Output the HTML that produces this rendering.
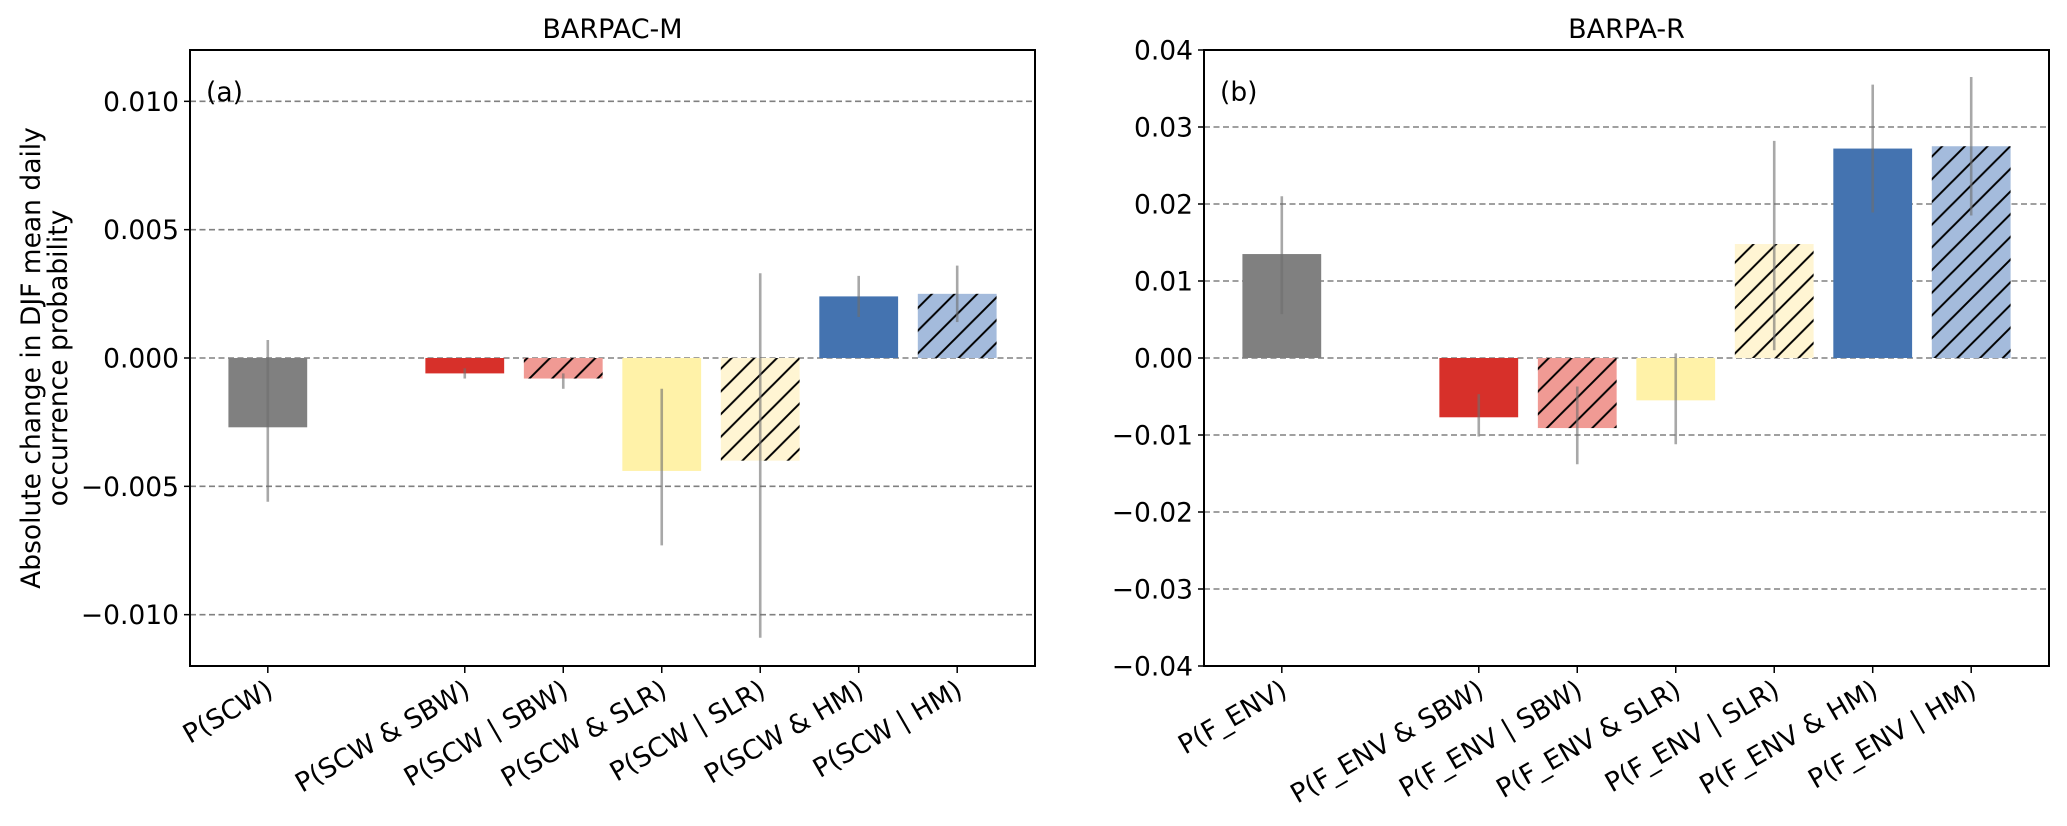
<!DOCTYPE html>
<html><head><meta charset="utf-8">
<style>
html,body{margin:0;padding:0;background:#fff;}
svg text{font-family:"DejaVu Sans","Liberation Sans",sans-serif;fill:#000;}
</style></head>
<body>
<svg id="fig" width="2067" height="821" viewBox="0 0 2067 821" xmlns="http://www.w3.org/2000/svg">
<defs>
<pattern id="hatch" patternUnits="userSpaceOnUse" width="22.7" height="22.7">
<path d="M-2,24.7 L24.7,-2 M-2,2 L2,-2 M20.7,24.7 L24.7,20.7" stroke="#000" stroke-width="2"/>
</pattern>
</defs>
<g id="chart"></g>
</svg>
<script>
const catsA = ["P(SCW)", "P(SCW & SBW)", "P(SCW | SBW)", "P(SCW & SLR)", "P(SCW | SLR)", "P(SCW & HM)", "P(SCW | HM)"];
const posA = [0, 2, 3, 4, 5, 6, 7];
const valsA = [-0.0027, -0.0006, -0.0008, -0.0044, -0.0040, 0.0024, 0.0025];
const errLoA = [-0.0056, -0.0008, -0.0012, -0.0073, -0.0109, 0.0016, 0.0014];
const errHiA = [0.0007, -0.0004, -0.0006, -0.0012, 0.0033, 0.0032, 0.0036];
const ticksA = [-0.010, -0.005, 0.000, 0.005, 0.010];
const tickLabelsA = ["\u22120.010", "\u22120.005", "0.000", "0.005", "0.010"];

const catsB = ["P(F_ENV)", "P(F_ENV & SBW)", "P(F_ENV | SBW)", "P(F_ENV & SLR)", "P(F_ENV | SLR)", "P(F_ENV & HM)", "P(F_ENV | HM)"];
const posB = [0, 2, 3, 4, 5, 6, 7];
const valsB = [0.0135, -0.0077, -0.0091, -0.0055, 0.0148, 0.0272, 0.0275];
const errLoB = [0.0057, -0.0102, -0.0138, -0.0112, 0.0010, 0.0189, 0.0185];
const errHiB = [0.0210, -0.0047, -0.0037, 0.0006, 0.0282, 0.0355, 0.0365];
const ticksB = [-0.04, -0.03, -0.02, -0.01, 0.00, 0.01, 0.02, 0.03, 0.04];
const tickLabelsB = ["\u22120.04", "\u22120.03", "\u22120.02", "\u22120.01", "0.00", "0.01", "0.02", "0.03", "0.04"];

const colors = ["#808080", "#d7302a", "#f09a94", "#fff2a8", "#fff5d3", "#4473b0", "#a4bbdc"];
const hatched = [false, false, true, false, true, false, true];

const NS = "http://www.w3.org/2000/svg";
const root = document.getElementById("chart");
const FS = 26.5;
function el(tag, attrs, parent) {
  const e = document.createElementNS(NS, tag);
  for (const k in attrs) e.setAttribute(k, attrs[k]);
  (parent || root).appendChild(e);
  return e;
}

function panel(opt) {
  const g = el("g", {});
  
  
  const x0 = opt.left, x1 = opt.right, yTop = 50, yBot = 666;
  const xmin = -0.79, xmax = 7.79;
  const xs = v => x0 + (v - xmin) / (xmax - xmin) * (x1 - x0);
  const ys = v => yTop + (opt.ymax - v) / (opt.ymax - opt.ymin) * (yBot - yTop);

  opt.ticks.forEach((t, i) => {
    const y = ys(t);
    const gl = el("line", {x1: x0, x2: x1, y1: y, y2: y, stroke: "#808080", "stroke-width": 1.6, "stroke-dasharray": "6,3.5"}, g);
    
    
    el("line", {x1: x0 - 6, x2: x0, y1: y, y2: y, stroke: "#000", "stroke-width": 1.5}, g);
    const tl = el("text", {x: x0 - 11, y: y + 9.5, "font-size": FS, "text-anchor": "end"}, g);
    tl.textContent = opt.tickLabels[i];
    
    
  });

  const bw = 0.8;
  opt.vals.forEach((v, i) => {
    const p = opt.pos[i];
    const bx = xs(p - bw / 2), bwpx = xs(p + bw / 2) - xs(p - bw / 2);
    const yv = ys(v), y0 = ys(0);
    const r = el("rect", {x: bx, y: Math.min(yv, y0), width: bwpx, height: Math.abs(yv - y0), fill: colors[i]}, g);
    
    
    if (hatched[i]) {
      const h = el("rect", {x: bx, y: Math.min(yv, y0), width: bwpx, height: Math.abs(yv - y0), fill: "url(#hatch)"}, g);
      
      
    }
    const eb = el("line", {x1: xs(p), x2: xs(p), y1: ys(opt.lo[i]), y2: ys(opt.hi[i]), stroke: "#6e6e6e", "stroke-opacity": 0.6, "stroke-width": 2.6}, g);
    
    
    const xp = xs(p);
    el("line", {x1: xp, x2: xp, y1: yBot, y2: yBot + 7, stroke: "#000", "stroke-width": 1.5}, g);
    const lt = el("text", {x: 0, y: 0, "font-size": FS, "text-anchor": "end", transform: "translate(" + (xp + 7) + "," + (yBot + 29) + ") rotate(-30)"}, g);
    lt.textContent = opt.cats[i];
    
    
  });

  const frame = el("rect", {x: x0, y: yTop, width: x1 - x0, height: yBot - yTop, fill: "none", stroke: "#000", "stroke-width": 2}, g);
  
  

  const title = el("text", {x: (x0 + x1) / 2, y: 38, "font-size": 27, "text-anchor": "middle"}, g);
  title.textContent = opt.title;
  
  

  const pl = el("text", {x: x0 + 16, y: 101, "font-size": FS}, g);
  pl.textContent = opt.label;
  
  
}

panel({name: "panel-barpac-m", left: 190, right: 1035, ymin: -0.012, ymax: 0.012, ticks: ticksA, tickLabels: tickLabelsA,
  cats: catsA, pos: posA, vals: valsA, lo: errLoA, hi: errHiA, title: "BARPAC-M", label: "(a)"});
panel({name: "panel-barpa-r", left: 1204, right: 2049, ymin: -0.04, ymax: 0.04, ticks: ticksB, tickLabels: tickLabelsB,
  cats: catsB, pos: posB, vals: valsB, lo: errLoB, hi: errHiB, title: "BARPA-R", label: "(b)"});

const yl = el("text", {x: 0, y: 0, "font-size": FS, "text-anchor": "middle", transform: "translate(40,358) rotate(-90)"});


const t1 = el("tspan", {x: 0, dy: 0}, yl); t1.textContent = "Absolute change in DJF mean daily";
const t2 = el("tspan", {x: 0, dy: 27}, yl); t2.textContent = "occurrence probability";
</script>
</body></html>
